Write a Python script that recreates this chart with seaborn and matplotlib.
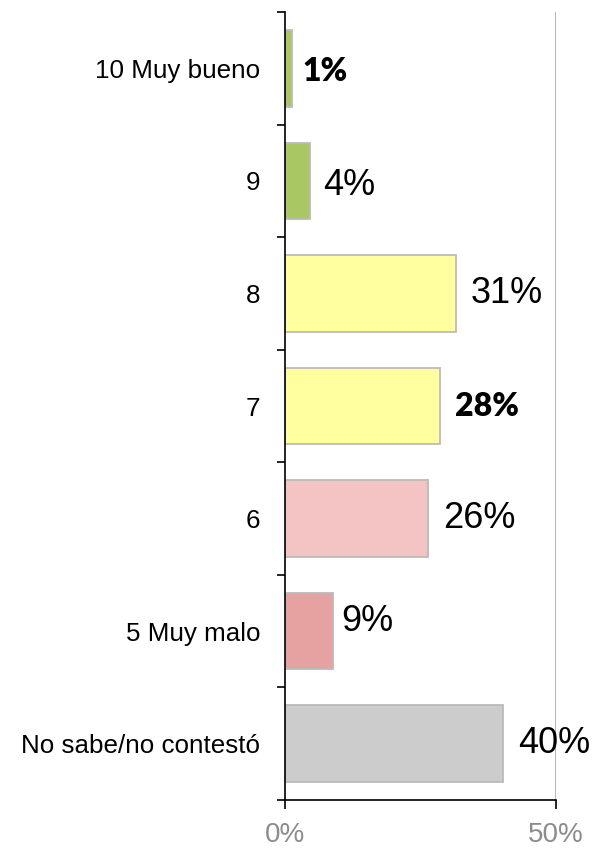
import numpy as np
import matplotlib
matplotlib.use("Agg")
import matplotlib.pyplot as plt
import seaborn as sns

# datos
categorias = ["10 Muy bueno", "9", "8", "7", "6", "5 Muy malo", "No sabe/no contestó"]
valores = [1.2, 4.6, 31.5, 28.6, 26.4, 8.9, 40.3]
etiquetas = ["1%", "4%", "31%", "28%", "26%", "9%", "40%"]
negrita = [True, False, False, True, False, False, False]
colores = ["#A9C864", "#A9C864", "#FFFFA0", "#FFFFA0", "#F4C4C4", "#E6A2A0", "#CCCCCC"]
xticks = [0, 50]
xtick_labels = ["0%", "50%"]

# desplazamiento de las etiquetas (px)
dx_px = [11, 13, 15, 15, 15, 8, 15]
dy_px = [3, 5, 0, 0, 0, -10, 0]

sns.set_style("white")
plt.rcParams['font.family'] = ['Liberation Sans', 'DejaVu Sans']
plt.rcParams['text.color'] = 'black'
plt.rcParams['ytick.color'] = 'black'
plt.rcParams['xtick.color'] = 'black'

fig = plt.figure(figsize=(5.94, 8.52), dpi=100)
ax = fig.add_axes([285 / 594, 1 - 800 / 852, (556 - 285) / 594, (800 - 12) / 852])

sns.barplot(x=valores, y=categorias, hue=categorias, palette=colores, legend=False,
            orient="h", width=0.68, edgecolor="#BBBBBB", linewidth=1.3, ax=ax, saturation=1)

ax.set_xlim(0, 50)
ax.set_ylim(len(categorias) - 0.5, -0.5)

# linea de cuadricula en 50%
ax.axvline(50, color="#A0A0A0", lw=1.8, zorder=0)

for i, (v, t) in enumerate(zip(valores, etiquetas)):
    if negrita[i]:
        ax.annotate(t, (v, i), xytext=(dx_px[i] * 0.72, -dy_px[i] * 0.72), textcoords="offset points",
                    ha="left", va="center", fontsize=23, fontweight="heavy", color="black",
                    family=["Lato", "DejaVu Sans"], annotation_clip=False)
    else:
        ax.annotate(t, (v, i), xytext=(dx_px[i] * 0.72, -dy_px[i] * 0.72), textcoords="offset points",
                    ha="left", va="center", fontsize=26, color="black", annotation_clip=False)

ax.set_xticks(xticks)
ax.set_xticklabels(xtick_labels, fontsize=20, color="#8C8C8C")
ax.tick_params(axis="x", direction="out", length=6.5, width=1.2, color="black", pad=9, bottom=True)

ax.set_yticks(range(len(categorias)))
ax.set_yticklabels(categorias, fontsize=18.7, color="black")
ax.set_yticks(np.arange(-0.5, len(categorias)), minor=True)
ax.tick_params(axis="y", which="major", length=0, pad=18)
ax.tick_params(axis="y", which="minor", direction="out", length=6, width=1.2, color="black", left=True)

for s in ["top", "right"]:
    ax.spines[s].set_visible(False)
for s in ["left", "bottom"]:
    ax.spines[s].set_color("black")
    ax.spines[s].set_linewidth(1.2)
ax.set_xlabel("")
ax.set_ylabel("")

fig.savefig("out.png", dpi=100)
